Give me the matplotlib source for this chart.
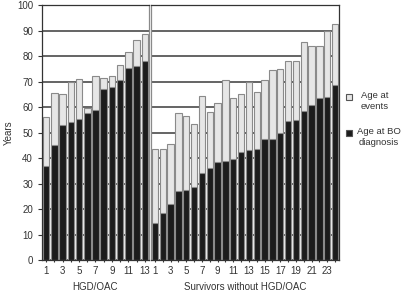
import numpy as np
import matplotlib
matplotlib.use("Agg")
import matplotlib.pyplot as plt
from matplotlib.patches import Rectangle

plt.rcParams['font.family'] = ['Liberation Sans', 'DejaVu Sans']

# HGD/OAC group
hgd_bo = [37, 45, 53, 54, 55.5, 57.5, 59, 67, 68, 70.5, 75.5, 76, 78]
hgd_event = [56, 65.5, 65, 70, 71, 59.5, 72, 71.5, 72, 76.5, 81.5, 86.5, 88.5]

# survivors without HGD/OAC
surv_bo = [14.5, 18.5, 22, 27, 27.5, 28.5, 34, 36, 38.5, 39, 39.5, 42.5,
           43, 43.5, 47.3, 47.5, 50, 54.5, 55, 58.5, 61, 63.5, 64, 68.5]
surv_event = [43.5, 43.5, 45.5, 57.5, 56.5, 53.5, 64.5, 58, 61.5, 70.5, 63.5, 65,
              70, 66, 70.5, 74.5, 75, 78, 78, 85.5, 84, 84, 90, 92.5]

legend_labels = ['Age at\nevents', 'Age at BO\ndiagnosis']

light = '#e6e6e6'
dark = '#1c1c1c'
edge = '#8a8a8a'
grid_c = '#4a4a4a'
txt_c = '#333333'

fig = plt.figure(figsize=(4.03, 2.93), dpi=100)
ax1 = fig.add_axes([0.1042, 0.1126, 0.2655, 0.870])
ax2 = fig.add_axes([0.3747, 0.1126, 0.4665, 0.870])

def draw(ax, bo, ev, xlabel):
    x = np.arange(1, len(bo) + 1)
    ax.set_axisbelow(True)
    ax.yaxis.grid(True, color=grid_c, linewidth=1.2)
    ax.bar(x, ev, width=0.8, color=light, edgecolor=edge, linewidth=0.8)
    ax.bar(x, bo, width=0.8, color=dark, edgecolor=edge, linewidth=0.8)
    ax.set_xlim(0.5, len(bo) + 0.5)
    ax.set_ylim(0, 100)
    ax.set_yticks(np.arange(0, 101, 10))
    ax.set_xticks(x)
    ax.set_xticklabels([str(i) if i % 2 == 1 else '' for i in x], fontsize=7, color=txt_c)
    ax.tick_params(axis='x', length=3, direction='inout', color=txt_c, pad=3)
    ax.set_xlabel(xlabel, fontsize=7, color=txt_c, labelpad=4)
    for s in ax.spines.values():
        s.set_color(txt_c)
        s.set_linewidth(0.9)

draw(ax1, hgd_bo, hgd_event, 'HGD/OAC')
draw(ax2, surv_bo, surv_event, 'Survivors without HGD/OAC')

ax1.tick_params(axis='y', labelsize=7, length=3, colors=txt_c)
ax1.set_ylabel('Years', fontsize=7, color=txt_c, labelpad=2)
ax1.spines['right'].set_color(edge)
ax2.spines['left'].set_color(edge)
ax2.tick_params(axis='y', left=False, labelleft=False)

# legend drawn by hand: square beside the first line, centred text
W, H = 403.0, 293.0
for (sq_top, tx, ty), col, lab in zip([(94, 375, 91), (130, 379, 127)],
                                      [light, dark], legend_labels):
    fig.patches.append(Rectangle((346 / W, 1 - (sq_top + 6) / H), 6 / W, 6 / H,
                                 transform=fig.transFigure, facecolor=col,
                                 edgecolor='#555555', linewidth=0.8))
    fig.text(tx / W, 1 - ty / H, lab, ha='center', va='top', fontsize=6.8,
             color=txt_c, multialignment='center', linespacing=1.3)

fig.savefig('out.png', dpi=100)
